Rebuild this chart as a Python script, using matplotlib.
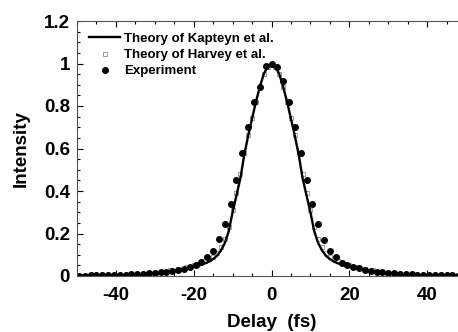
"""
Autocorrelation trace: theory vs experiment
"""
import matplotlib
matplotlib.use("Agg")
import matplotlib.pyplot as plt
from matplotlib.ticker import MultipleLocator
from matplotlib import rc
rc("font", family="Liberation Sans", weight="bold", size=13.5)
rc("axes", unicode_minus=False)

# Theory of Kapteyn et al. (solid line)
kap_t = [-50, -45, -40, -35, -30, -25, -22, -20, -18, -17, -16, -15, -14, -13,
         -12, -11, -10, -9, -8, -7, -6, -5, -4, -3, -2, -1, 0,
         1, 2, 3, 4, 5, 6, 7, 8, 9, 10, 11, 12, 13, 14, 15, 16, 17, 18,
         20, 22, 25, 30, 35, 40, 45, 48]
kap_i = [0.0, 0.001, 0.002, 0.005, 0.012, 0.025, 0.036, 0.045, 0.055, 0.06,
         0.068, 0.08, 0.095, 0.12, 0.155, 0.21, 0.30, 0.38, 0.46, 0.57, 0.66,
         0.74, 0.82, 0.89, 0.95, 0.985, 1.0,
         0.985, 0.95, 0.89, 0.82, 0.74, 0.66, 0.57, 0.46, 0.38, 0.30, 0.21,
         0.155, 0.12, 0.095, 0.08, 0.068, 0.06, 0.055,
         0.045, 0.036, 0.025, 0.012, 0.005, 0.002, 0.001, 0.0]

# Theory of Harvey et al. (open squares)
har_t = [-48, -44, -40, -36, -33, -30, -28, -26, -24, -22, -20, -19, -18, -17,
         -16, -15, -14, -13, -12, -11, -10, -9, -8, -7, -6, -5, -4, -3, -2, -1,
         0, 1, 2, 3, 4, 5, 6, 7, 8, 9, 10, 11, 12, 13, 14, 15, 16, 17, 18, 19,
         20, 22, 24, 26, 28, 30, 33, 36, 40, 44, 48]
har_i = [0.001, 0.002, 0.004, 0.007, 0.010, 0.016, 0.021, 0.027, 0.034, 0.042,
         0.052, 0.058, 0.064, 0.070, 0.078, 0.090, 0.110, 0.135, 0.175, 0.23,
         0.31, 0.39, 0.48, 0.58, 0.665, 0.745, 0.82, 0.89, 0.95, 0.985,
         1.0, 0.985, 0.95, 0.89, 0.82, 0.745, 0.665, 0.58, 0.48, 0.39, 0.31,
         0.23, 0.175, 0.135, 0.110, 0.090, 0.078, 0.070, 0.064, 0.058,
         0.052, 0.042, 0.034, 0.027, 0.021, 0.016, 0.010, 0.007, 0.004, 0.002,
         0.001]

# Experiment (filled dots)
exp_t = [-49.5, -48, -46.5, -45, -43.5, -42, -40.5, -39, -37.5, -36, -34.5,
         -33, -31.5, -30, -28.5, -27, -25.5, -24, -22.5, -21, -19.5, -18,
         -16.5, -15, -13.5, -12, -10.5, -9, -7.5, -6, -4.5, -3, -1.5, 0,
         1.5, 3, 4.5, 6, 7.5, 9, 10.5, 12, 13.5, 15, 16.5, 18, 19.5, 21, 22.5,
         24, 25.5, 27, 28.5, 30, 31.5, 33, 34.5, 36, 37.5, 39, 40.5, 42, 43.5,
         45, 46.5, 48]
exp_i = [0.002, 0.002, 0.003, 0.003, 0.004, 0.004, 0.005, 0.006, 0.007, 0.008,
         0.009, 0.011, 0.013, 0.015, 0.018, 0.021, 0.025, 0.030, 0.035, 0.042,
         0.050, 0.064, 0.089, 0.118, 0.174, 0.245, 0.34, 0.45, 0.58, 0.70,
         0.82, 0.89, 0.99, 1.0,
         0.985, 0.92, 0.82, 0.70, 0.58, 0.45, 0.34, 0.245, 0.17, 0.118, 0.089,
         0.062, 0.050, 0.042, 0.036, 0.030, 0.025, 0.021, 0.018, 0.015, 0.013,
         0.011, 0.009, 0.008, 0.007, 0.006, 0.005, 0.004, 0.004, 0.003, 0.003,
         0.002]

fig = plt.figure(figsize=(4.58, 3.32), dpi=100)
ax = fig.add_axes([77/458, 56/332, 389/458, 255/332])

ax.plot(har_t, har_i, 's', markersize=3.2, markerfacecolor='white',
        markeredgecolor='#8a8a8a', markeredgewidth=0.6, label='Theory of Harvey et al.')
ax.plot(kap_t, kap_i, '-k', linewidth=1.7, label='Theory of Kapteyn et al.')
ax.plot(exp_t, exp_i, 'o', color='black', markersize=4, label='Experiment')

ax.set_xlim(-50, 50)
ax.set_ylim(0, 1.2)
ax.xaxis.set_major_locator(MultipleLocator(20))
ax.xaxis.set_minor_locator(MultipleLocator(5))
ax.yaxis.set_major_locator(MultipleLocator(0.2))
ax.yaxis.set_minor_locator(MultipleLocator(0.05))
ax.tick_params(which='both', direction='in', top=True, right=False, width=0.8)
ax.tick_params(which='major', length=4, pad=5)
ax.tick_params(axis='x', which='major', pad=8)
ax.tick_params(which='minor', length=2.5)
ax.set_yticks([0, 0.2, 0.4, 0.6, 0.8, 1.0, 1.2])
ax.set_yticklabels(['0', '0.2', '0.4', '0.6', '0.8', '1', '1.2'])
for s in ax.spines.values():
    s.set_linewidth(0.8)
    s.set_color('#555555')

ax.set_xlabel("Delay  (fs)", fontsize=13.5, fontweight='bold', labelpad=7)
ax.set_ylabel("Intensity", fontsize=13.5, fontweight='bold', labelpad=10)

h, l = ax.get_legend_handles_labels()
ax.legend([h[1], h[0], h[2]], [l[1], l[0], l[2]], loc='upper left',
          frameon=False, fontsize=9.5, handlelength=2.4, handletextpad=0.3,
          labelspacing=0.3, borderaxespad=0.2, bbox_to_anchor=(0.01, 0.985))

fig.savefig('out.png', dpi=100)
